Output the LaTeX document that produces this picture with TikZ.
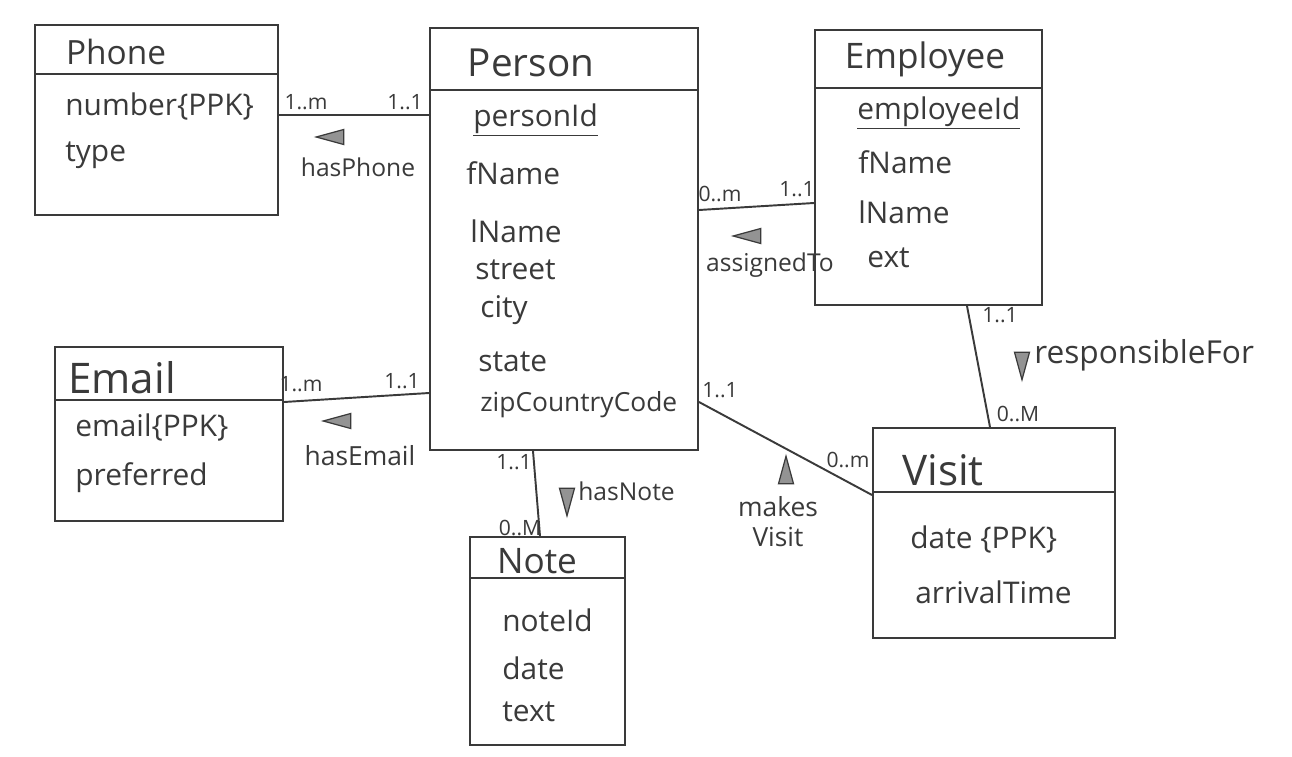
\documentclass[tikz,border=0pt]{standalone}
\usepackage{fontspec}
\setmainfont{Open Sans}
\usetikzlibrary{fit,shapes.geometric}
\definecolor{ink}{HTML}{3A3A3A}
\newcommand\myfs[1]{\fontsize{#1}{#1}\selectfont}
\begin{document}
\begin{tikzpicture}[x=0.02cm,y=-0.02cm,
  cls/.style={draw=ink, line width=1.1pt, inner sep=0pt},
  ttl/.style={text=ink, inner sep=0pt, anchor=center},
  attr/.style={font=\myfs{17}, text=ink, anchor=west, inner sep=0pt},
  mult/.style={font=\myfs{12}, text=ink, inner sep=0pt},
  rel/.style={font=\myfs{14}, text=ink, inner sep=0pt},
  conn/.style={draw=ink, line width=1.1pt},
  tri/.style={isosceles triangle, isosceles triangle stretches, draw=ink, fill=ink!55,
    line width=0.7pt, inner sep=0pt, minimum width=0.3cm, minimum height=0.55cm}]
\useasboundingbox[fill=white] (0,0) rectangle (1292,757);

% ---------- classes ----------
\node[cls, fit={(35,25) (278,215)}] (phone) {};
\draw[conn] (phone.west |- 0,74) -- (phone.east |- 0,74);
\node[ttl, font=\myfs{19}] (phoneT) at (116,52) {Phone};
\node[attr] (phoneA1) at (65,107) {number\{PPK\}};
\node[attr] (phoneA2) at (65,155) {type};

\node[cls, fit={(430,28) (698,450)}] (person) {};
\draw[conn] (person.west |- 0,90) -- (person.east |- 0,90);
\node[ttl, font=\myfs{22}] (personT) at (531,63) {Person};
\node[attr] (personA1) at (473,120) {\underline{personId}};
\node[attr] (personA2) at (466,173) {fName};
\node[attr] (personA3) at (470,231) {lName};
\node[attr] (personA4) at (475,270) {street};
\node[attr] (personA5) at (480,310) {city};
\node[attr] (personA6) at (478,362) {state};
\node[attr, font=\myfs{15}] (personA7) at (480,405) {zipCountryCode};

\node[cls, fit={(815,30) (1042,305)}] (employee) {};
\draw[conn] (employee.west |- 0,88) -- (employee.east |- 0,88);
\node[ttl, font=\myfs{20}] (employeeT) at (925,59) {Employee};
\node[attr] (employeeA1) at (857,113) {\underline{employeeId}};
\node[attr] (employeeA2) at (858,162) {fName};
\node[attr] (employeeA3) at (858,212) {lName};
\node[attr] (employeeA4) at (867,258) {ext};

\node[cls, fit={(55,347) (283,521)}] (email) {};
\draw[conn] (email.west |- 0,400) -- (email.east |- 0,400);
\node[ttl, font=\myfs{24}] (emailT) at (122,378) {Email};
\node[attr] (emailA1) at (75,428) {email\{PPK\}};
\node[attr] (emailA2) at (75,478) {preferred};

\node[cls, fit={(470,537) (625,745)}] (note) {};
\draw[conn] (note.west |- 0,578) -- (note.east |- 0,578);
\node[ttl, font=\myfs{20}] (noteT) at (537,561) {Note};
\node[attr] (noteA1) at (502,620) {noteId};
\node[attr] (noteA2) at (502,668) {date};
\node[attr] (noteA3) at (502,712) {text};

\node[cls, fit={(873,428) (1115,638)}] (visit) {};
\draw[conn] (visit.west |- 0,492) -- (visit.east |- 0,492);
\node[ttl, font=\myfs{24}] (visitT) at (943,470) {Visit};
\node[attr] (visitA1) at (910,540) {date \{PPK\}};
\node[attr] (visitA2) at (915,592) {arrivalTime};

% ---------- connectors ----------
\draw[conn] (phone.east |- 0,115) -- (person.west |- 0,115);
\node[mult] (m1a) at (306,102) {1..m};
\node[mult] (m1b) at (405,102) {1..1};
\node[tri, shape border rotate=180] (t1) at (338,137) {};
\node[rel] (r1) at (358,167) {hasPhone};

\draw[conn] (email.east |- 0,402) -- (person.west |- 0,393);
\node[mult] (m2a) at (301,384) {1..m};
\node[mult] (m2b) at (402,381) {1..1};
\node[tri, shape border rotate=180] (t2) at (345,421) {};
\node[rel, font=\myfs{15}] (r2) at (360,456) {hasEmail};

\draw[conn] (person.east |- 0,210) -- (employee.west |- 0,203);
\node[mult] (m3a) at (720,194) {0..m};
\node[mult] (m3b) at (797,189) {1..1};
\node[tri, shape border rotate=180] (t3) at (755,236) {};
\node[rel] (r3) at (770,265) {assignedTo};

\draw[conn] (employee.south -| 967,0) -- (visit.north -| 990,0);
\node[mult] (m4a) at (1000,315) {1..1};
\node[tri, shape border rotate=270] (t4) at (1022,358) {};
\node[rel, font=\myfs{18}, anchor=west] (r4) at (1034,355) {responsibleFor};
\node[mult] (m4b) at (1018,414) {0..M};

\draw[conn] (person.east |- 0,402) -- (visit.west |- 0,495);
\node[mult] (m5a) at (720,390) {1..1};
\node[mult] (m5b) at (848,460) {0..m};
\node[tri, shape border rotate=105] (t5) at (786,478) {};
\node[rel, font=\myfs{15}, align=center] (r5) at (778,522) {makes\\[2pt]Visit};

\draw[conn] (person.south -| 533,0) -- (note.north -| 540,0);
\node[mult] (m6a) at (514,462) {1..1};
\node[tri, shape border rotate=270] (t6) at (567,494) {};
\node[rel, anchor=west] (r6) at (578,491) {hasNote};
\node[mult] (m6b) at (520,528) {0..M};
\end{tikzpicture}
\end{document}
